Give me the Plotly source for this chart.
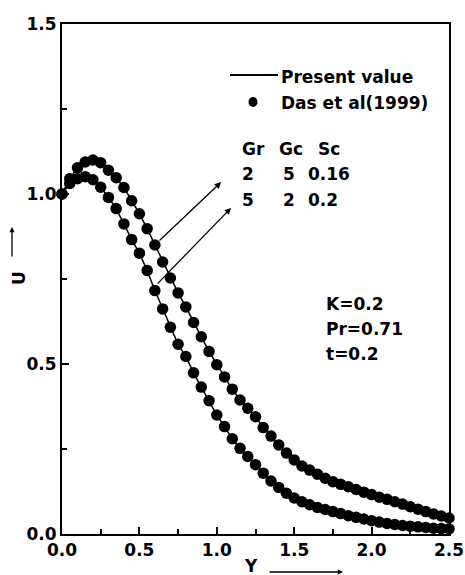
import plotly.graph_objects as go

# Dimensionless distance from the plate
Y = [0.00, 0.05, 0.10, 0.15, 0.20, 0.25, 0.30, 0.35, 0.40, 0.45,
     0.50, 0.55, 0.60, 0.65, 0.70, 0.75, 0.80, 0.85, 0.90, 0.95,
     1.00, 1.05, 1.10, 1.15, 1.20, 1.25, 1.30, 1.35, 1.40, 1.45,
     1.50, 1.55, 1.60, 1.65, 1.70, 1.75, 1.80, 1.85, 1.90, 1.95,
     2.00, 2.05, 2.10, 2.15, 2.20, 2.25, 2.30, 2.35, 2.40, 2.45, 2.50]

# Velocity profile, Gr=2, Gc=5, Sc=0.16
U_gr2 = [1.000, 1.045, 1.077, 1.094, 1.100, 1.092, 1.070, 1.048, 1.019, 0.980,
         0.942, 0.898, 0.850, 0.800, 0.753, 0.709, 0.668, 0.622, 0.580, 0.537,
         0.498, 0.462, 0.426, 0.394, 0.370, 0.345, 0.313, 0.288, 0.262, 0.238,
         0.218, 0.200, 0.188, 0.176, 0.164, 0.154, 0.146, 0.139, 0.131, 0.123,
         0.116, 0.108, 0.102, 0.095, 0.088, 0.080, 0.073, 0.066, 0.059, 0.053, 0.047]

# Velocity profile, Gr=5, Gc=2, Sc=0.2
U_gr5 = [1.000, 1.031, 1.045, 1.051, 1.042, 1.020, 0.990, 0.957, 0.912, 0.866,
         0.826, 0.775, 0.716, 0.662, 0.608, 0.558, 0.522, 0.474, 0.432, 0.392,
         0.350, 0.316, 0.280, 0.252, 0.228, 0.204, 0.179, 0.156, 0.137, 0.120,
         0.106, 0.095, 0.086, 0.078, 0.072, 0.066, 0.060, 0.054, 0.049, 0.044,
         0.039, 0.035, 0.031, 0.028, 0.025, 0.023, 0.021, 0.019, 0.017, 0.016, 0.015]

X_TICKS = [0.0, 0.5, 1.0, 1.5, 2.0, 2.5]
Y_TICKS = [0.0, 0.5, 1.0, 1.5]

FONT = "DejaVu Sans"
W, H = 465, 575
L, R, T, B = 62, 16, 24, 41
PW, PH = W - L - R, H - T - B


def px(x):
    return (x - L) / PW


def py(y):
    return (H - B - y) / PH


fig = go.Figure()
for U in (U_gr2, U_gr5):
    fig.add_trace(go.Scatter(
        x=Y, y=U, mode="lines+markers",
        line=dict(color="black", width=1.5),
        marker=dict(color="black", size=11.5, line=dict(width=0)),
        showlegend=False, cliponaxis=False,
    ))

axis_common = dict(
    showline=True, linecolor="black", linewidth=2, mirror=True,
    ticks="inside", ticklen=7, tickwidth=1.5, tickcolor="black",
    showgrid=False, zeroline=False,
    tickfont=dict(family=FONT, size=17, color="black", weight="bold"),
    minor=dict(ticks="inside", ticklen=5, tickwidth=1.5, tickcolor="black", dtick=0.25, showgrid=False),
)

fig.update_xaxes(range=[0, 2.5], tickvals=X_TICKS, ticktext=[f"{v:.1f}" for v in X_TICKS], **axis_common)
fig.update_yaxes(range=[0, 1.5], tickvals=Y_TICKS, ticktext=[f"{v:.1f}" for v in Y_TICKS], **axis_common)

bold = dict(family=FONT, size=17, color="black", weight="bold")
ann = []


def text(s, x, y, anchor="left", **kw):
    ann.append(dict(text=s, x=px(x), y=py(y), xref="paper", yref="paper",
                    xanchor=anchor, yanchor="middle", showarrow=False, font=bold, **kw))


# legend entries
text("Present value", 279, 77)
text("Das et al(1999)", 279, 103)

# parameter table
for s, x in (("Gr", 240), ("Gc", 277), ("Sc", 316)):
    text(s, x, 149)
for s, x in (("2", 240), ("5", 281), ("0.16", 306)):
    text(s, x, 174)
for s, x in (("5", 240), ("2", 281), ("0.2", 306)):
    text(s, x, 200)

# fixed parameters
text("K=0.2", 324, 304)
text("Pr=0.71", 324, 329)
text("t=0.2", 324, 354)

# pointers from the table to each curve
for tip, tail in (((1.028, 1.035), (0.62, 0.859)), ((1.092, 0.959), (0.608, 0.732))):
    ann.append(dict(text="", x=tip[0], y=tip[1], ax=tail[0], ay=tail[1],
                    xref="x", yref="y", axref="x", ayref="y", showarrow=True,
                    arrowhead=2, arrowsize=1, arrowwidth=1.3, arrowcolor="black"))

# axis titles with direction arrows
text("U", 19, 278, anchor="center", textangle=-90)
ann.append(dict(text="", x=px(12), y=py(227), xref="paper", yref="paper",
                ax=0, ay=31, showarrow=True, arrowhead=2, arrowsize=0.8,
                arrowwidth=1.3, arrowcolor="black"))
text("Y", 251, 566, anchor="center")
ann.append(dict(text="", x=px(343), y=py(572), xref="paper", yref="paper",
                ax=-75, ay=0, showarrow=True, arrowhead=2, arrowsize=0.8,
                arrowwidth=1.3, arrowcolor="black"))

shapes = [
    dict(type="line", xref="paper", yref="paper", x0=px(230), x1=px(278), y0=py(75), y1=py(75),
         line=dict(color="black", width=2)),
    dict(type="circle", xref="paper", yref="paper", x0=px(248.5), x1=px(257.5), y0=py(97), y1=py(107),
         fillcolor="black", line=dict(width=0)),
]

fig.update_layout(
    width=W, height=H,
    margin=dict(l=L, r=R, t=T, b=B, autoexpand=False),
    paper_bgcolor="white", plot_bgcolor="white",
    annotations=ann, shapes=shapes,
)

fig.write_html("out.html")
